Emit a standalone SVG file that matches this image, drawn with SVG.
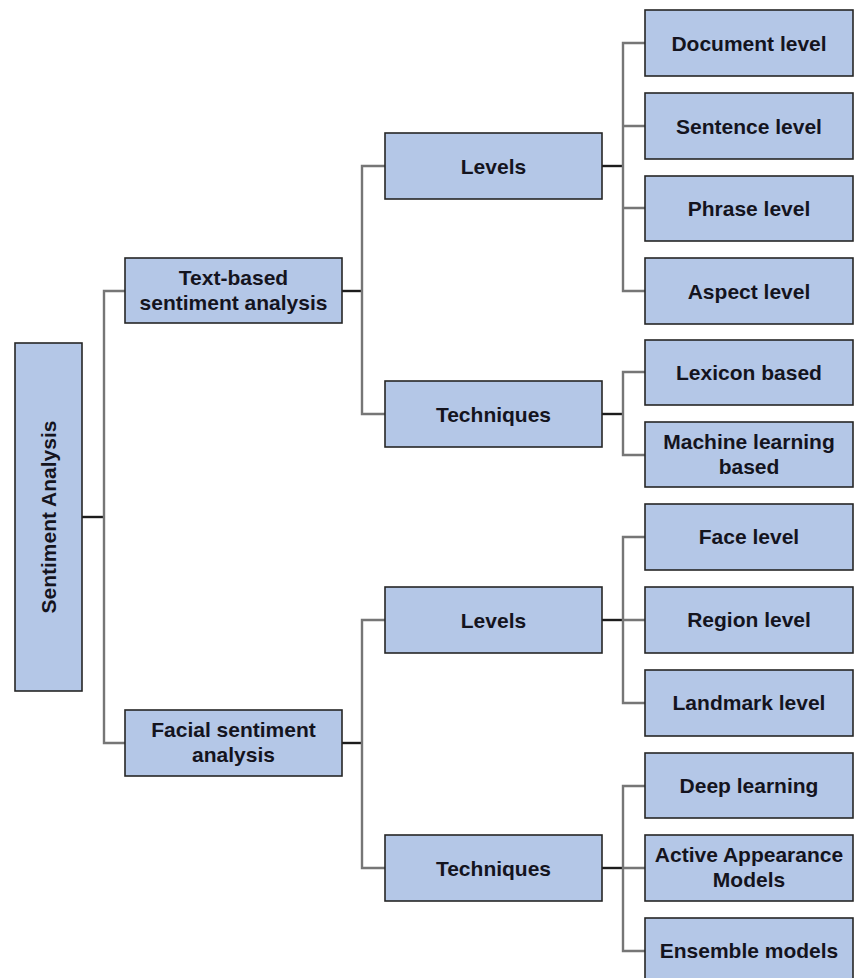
<svg xmlns="http://www.w3.org/2000/svg" width="854" height="978" viewBox="0 0 854 978">
<style>
.box{fill:#b4c7e7;stroke:#262626;stroke-width:1.6}
.t{font-family:"Liberation Sans",Arial,sans-serif;font-weight:bold;font-size:21px;fill:#14141e;text-anchor:middle}
.dk{fill:none;stroke:#1c1c1c;stroke-width:2.4}
.gr{fill:none;stroke:#767676;stroke-width:2.4}
</style>
<rect width="854" height="978" fill="#ffffff"/>
<g id="connectors">
<path class="dk" d="M82 517H104"/>
<path class="gr" d="M125 291H104V743H125"/>
<path class="dk" d="M342 291H362"/>
<path class="gr" d="M385 166H362V414H385"/>
<path class="dk" d="M342 743H362"/>
<path class="gr" d="M385 620H362V868H385"/>
<path class="dk" d="M602 166H623"/>
<path class="gr" d="M645 43H623V291H645M623 126H645M623 208H645"/>
<path class="dk" d="M602 414H623"/>
<path class="gr" d="M645 372H623V455H645"/>
<path class="dk" d="M602 620H623"/>
<path class="gr" d="M645 537H623V703H645M623 620H645"/>
<path class="dk" d="M602 868H623"/>
<path class="gr" d="M645 786H623V951H645M623 868H645"/>
</g>
<g id="root"><rect class="box" x="15" y="343" width="67" height="348"/><text class="t" transform="translate(56 517) rotate(-90)">Sentiment Analysis</text></g>
<g id="text-based"><rect class="box" x="125" y="258" width="217" height="65"/><text class="t" x="233.5" y="285">Text-based</text><text class="t" x="233.5" y="310">sentiment analysis</text></g>
<g id="facial"><rect class="box" x="125" y="710" width="217" height="66"/><text class="t" x="233.5" y="737">Facial sentiment</text><text class="t" x="233.5" y="762">analysis</text></g>
<g id="text-levels"><rect class="box" x="385" y="133" width="217" height="66"/><text class="t" x="493.5" y="174">Levels</text></g>
<g id="text-techniques"><rect class="box" x="385" y="381" width="217" height="66"/><text class="t" x="493.5" y="422">Techniques</text></g>
<g id="facial-levels"><rect class="box" x="385" y="587" width="217" height="66"/><text class="t" x="493.5" y="628">Levels</text></g>
<g id="facial-techniques"><rect class="box" x="385" y="835" width="217" height="66"/><text class="t" x="493.5" y="876">Techniques</text></g>
<g id="document-level"><rect class="box" x="645" y="10" width="208" height="66"/><text class="t" x="749" y="51">Document level</text></g>
<g id="sentence-level"><rect class="box" x="645" y="93" width="208" height="66"/><text class="t" x="749" y="134">Sentence level</text></g>
<g id="phrase-level"><rect class="box" x="645" y="176" width="208" height="65"/><text class="t" x="749" y="216">Phrase level</text></g>
<g id="aspect-level"><rect class="box" x="645" y="258" width="208" height="66"/><text class="t" x="749" y="299">Aspect level</text></g>
<g id="lexicon-based"><rect class="box" x="645" y="340" width="208" height="65"/><text class="t" x="749" y="380">Lexicon based</text></g>
<g id="ml-based"><rect class="box" x="645" y="422" width="208" height="65"/><text class="t" x="749" y="449">Machine learning</text><text class="t" x="749" y="474">based</text></g>
<g id="face-level"><rect class="box" x="645" y="504" width="208" height="66"/><text class="t" x="749" y="544">Face level</text></g>
<g id="region-level"><rect class="box" x="645" y="587" width="208" height="66"/><text class="t" x="749" y="627">Region level</text></g>
<g id="landmark-level"><rect class="box" x="645" y="670" width="208" height="66"/><text class="t" x="749" y="710">Landmark level</text></g>
<g id="deep-learning"><rect class="box" x="645" y="753" width="208" height="65"/><text class="t" x="749" y="793">Deep learning</text></g>
<g id="active-appearance"><rect class="box" x="645" y="835" width="208" height="66"/><text class="t" x="749" y="862">Active Appearance</text><text class="t" x="749" y="887">Models</text></g>
<g id="ensemble-models"><rect class="box" x="645" y="918" width="208" height="70"/><text class="t" x="749" y="958">Ensemble models</text></g>
</svg>
